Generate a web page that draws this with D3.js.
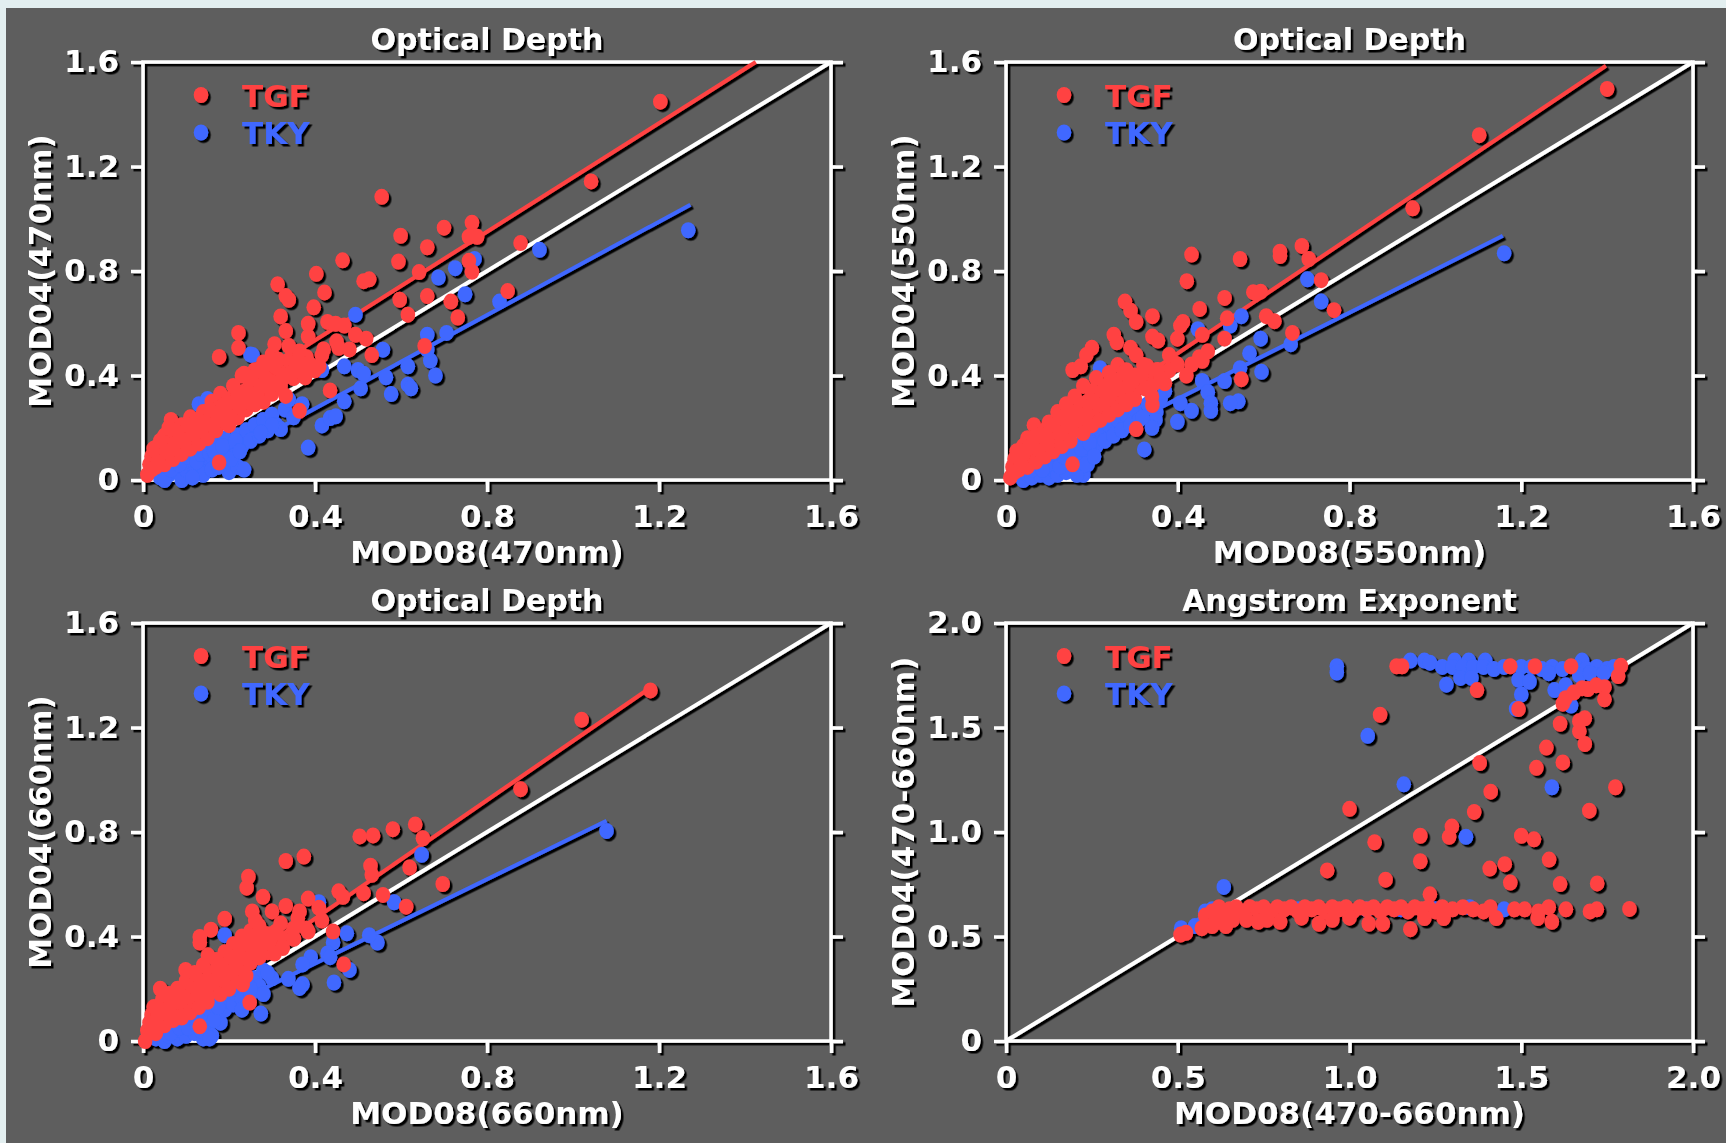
<!DOCTYPE html>
<html>
<head>
<meta charset="utf-8">
<script src="https://cdn.jsdelivr.net/npm/d3@7"></script>
<style>
body { margin: 0; background: #e3eff0; }
svg { display: block; font-family: "DejaVu Sans", Verdana, sans-serif; font-weight: bold; }
</style>
</head>
<body>
<div id="chart"></div>
<script>

// ---- titles, labels, ticks ----
var titles  = ["Optical Depth", "Optical Depth", "Optical Depth", "Angstrom Exponent"];
var xLabels = ["MOD08(470nm)", "MOD08(550nm)", "MOD08(660nm)", "MOD08(470-660nm)"];
var yLabels = ["MOD04(470nm)", "MOD04(550nm)", "MOD04(660nm)", "MOD04(470-660nm)"];
var series  = ["TGF", "TKY"];

var aodTicks    = [0, 0.4, 0.8, 1.2, 1.6];
var aodLabels   = ["0", "0.4", "0.8", "1.2", "1.6"];
var angTicks    = [0, 0.5, 1.0, 1.5, 2.0];
var angLabels   = ["0", "0.5", "1.0", "1.5", "2.0"];

// ---- 470nm ----
var tgf470 = [
	[0.01,0.02],[0.015,0.06],[0.02,0.09],[0.03,0.05],[0.03,0.11],[0.04,0.08],[0.045,0.13],[0.05,0.06],[0.05,0.17],[0.06,0.10],
	[0.06,0.14],[0.065,0.23],[0.07,0.08],[0.07,0.19],[0.08,0.12],[0.08,0.16],[0.09,0.10],[0.09,0.21],[0.10,0.14],[0.10,0.18],
	[0.11,0.12],[0.11,0.24],[0.12,0.16],[0.12,0.20],[0.13,0.14],[0.13,0.22],[0.14,0.18],[0.14,0.26],[0.15,0.16],[0.15,0.21],
	[0.16,0.24],[0.16,0.30],[0.17,0.19],[0.17,0.27],[0.18,0.22],[0.18,0.33],[0.19,0.25],[0.19,0.29],[0.20,0.21],[0.20,0.31],
	[0.21,0.27],[0.21,0.36],[0.22,0.24],[0.22,0.32],[0.23,0.29],[0.23,0.40],[0.24,0.27],[0.24,0.34],[0.25,0.31],[0.25,0.37],
	[0.26,0.29],[0.26,0.42],[0.27,0.33],[0.27,0.38],[0.28,0.30],[0.28,0.45],[0.29,0.35],[0.29,0.41],[0.30,0.33],[0.30,0.48],
	[0.31,0.38],[0.31,0.43],[0.32,0.36],[0.33,0.41],[0.34,0.46],[0.35,0.39],[0.36,0.44],[0.38,0.47],[0.40,0.42],[0.42,0.50],
	[0.45,0.53],[0.48,0.50],
	[0.02,0.04],[0.025,0.12],[0.035,0.07],[0.04,0.15],[0.055,0.11],[0.06,0.20],[0.075,0.14],[0.085,0.18],[0.095,0.15],[0.105,0.21],
	[0.115,0.19],[0.125,0.23],[0.135,0.19],[0.145,0.22],[0.155,0.27],[0.165,0.21],[0.175,0.24],[0.185,0.28],[0.195,0.22],[0.205,0.26],
	[0.215,0.30],[0.225,0.28],[0.235,0.33],[0.245,0.30],[0.255,0.35],[0.265,0.33],[0.275,0.36],[0.285,0.38],[0.295,0.43],[0.305,0.37],
	[0.315,0.46],[0.325,0.39],[0.345,0.41],[0.355,0.45],[0.37,0.41],[0.39,0.44],
	[1.203,1.448],[1.042,1.143],[0.555,1.084],[0.765,0.985],[0.700,0.966],[0.599,0.935],[0.758,0.931],[0.777,0.931],[0.661,0.891],
	[0.878,0.907],[0.464,0.841],[0.594,0.836],[0.758,0.839],[0.642,0.796],[0.403,0.789],[0.765,0.797],[0.526,0.768],[0.513,0.761],
	[0.313,0.749],[0.422,0.718],[0.661,0.704],[0.332,0.704],[0.339,0.690],[0.597,0.690],[0.716,0.683],[0.848,0.723],[0.397,0.661],
	[0.616,0.633],[0.320,0.626],[0.732,0.622],[0.429,0.605],[0.448,0.598],[0.468,0.591],[0.384,0.598],[0.332,0.570],[0.222,0.563],
	[0.384,0.549],[0.494,0.556],[0.519,0.541],[0.655,0.513],[0.306,0.520],[0.339,0.513],[0.455,0.506],[0.364,0.492],[0.416,0.478],
	[0.532,0.478],[0.177,0.471],[0.222,0.506],[0.371,0.442],[0.306,0.435],[0.410,0.435],[0.377,0.393],[0.267,0.421],[0.326,0.400],
	[0.235,0.407],[0.287,0.386],[0.435,0.343],[0.364,0.265],[0.177,0.067],[0.332,0.322]
];
var tky470 = [
	[0.04,0.01],[0.05,0.03],[0.06,0.02],[0.07,0.05],[0.08,0.03],[0.09,0.00],[0.09,0.07],[0.10,0.04],[0.11,0.08],[0.12,0.03],
	[0.12,0.11],[0.13,0.06],[0.14,0.09],[0.14,0.02],[0.15,0.12],[0.16,0.07],[0.16,0.04],[0.17,0.14],[0.18,0.10],[0.19,0.06],
	[0.19,0.16],[0.20,0.12],[0.20,0.03],[0.21,0.09],[0.22,0.17],[0.22,0.05],[0.23,0.13],[0.24,0.19],[0.25,0.15],[0.26,0.21],
	[0.27,0.17],[0.28,0.23],[0.29,0.19],[0.30,0.25],[0.31,0.21],[0.33,0.27],[0.35,0.24],[0.37,0.29],[0.13,0.29],[0.15,0.31],
	[0.25,0.48],
	[0.05,0.00],[0.065,0.04],[0.085,0.06],[0.105,0.09],[0.115,0.01],[0.125,0.07],[0.135,0.10],[0.155,0.10],[0.165,0.11],[0.175,0.05],
	[0.185,0.13],[0.205,0.08],[0.215,0.15],[0.225,0.11],[0.235,0.04],
	[1.268,0.956],[0.922,0.881],[0.829,0.683],[0.749,0.711],[0.726,0.811],[0.687,0.775],[0.771,0.846],[0.706,0.563],[0.661,0.556],
	[0.668,0.457],[0.680,0.400],[0.661,0.499],[0.616,0.435],[0.616,0.365],[0.623,0.351],[0.565,0.393],[0.577,0.329],[0.558,0.499],
	[0.506,0.351],[0.494,0.633],[0.468,0.435],[0.500,0.421],[0.513,0.407],[0.468,0.301],[0.416,0.421],[0.416,0.209],[0.435,0.237],
	[0.448,0.244],[0.384,0.124],[0.339,0.308],[0.320,0.195],[0.300,0.209],[0.274,0.181],[0.255,0.478],[0.145,0.294]
];
var fitTgf470 = [[0.02,0.14],[1.425,1.6]];
var fitTky470 = [[0.10,0.006],[1.273,1.054]];

// ---- 550nm ----
var tgf550 = [
	[0.01,0.01],[0.015,0.05],[0.02,0.08],[0.03,0.04],[0.03,0.10],[0.04,0.07],[0.04,0.13],[0.05,0.05],[0.05,0.16],[0.06,0.09],
	[0.06,0.12],[0.065,0.21],[0.07,0.07],[0.07,0.17],[0.08,0.11],[0.08,0.15],[0.09,0.09],[0.09,0.19],[0.10,0.13],[0.10,0.22],
	[0.11,0.11],[0.11,0.17],[0.12,0.15],[0.12,0.26],[0.13,0.13],[0.13,0.20],[0.14,0.17],[0.14,0.29],[0.15,0.15],[0.15,0.23],
	[0.16,0.19],[0.16,0.32],[0.17,0.21],[0.17,0.26],[0.18,0.18],[0.18,0.36],[0.19,0.24],[0.19,0.30],[0.20,0.21],[0.20,0.34],
	[0.21,0.26],[0.21,0.39],[0.22,0.23],[0.22,0.31],[0.23,0.28],[0.23,0.36],[0.24,0.25],[0.24,0.41],[0.25,0.30],[0.25,0.35],
	[0.26,0.27],[0.26,0.44],[0.27,0.32],[0.27,0.38],[0.28,0.29],[0.28,0.42],[0.29,0.34],[0.30,0.31],[0.30,0.40],[0.31,0.36],
	[0.32,0.44],[0.33,0.38],[0.34,0.32],[0.35,0.42],[0.37,0.37],[0.39,0.45],[0.42,0.40],[0.45,0.47],
	[0.02,0.03],[0.025,0.11],[0.035,0.06],[0.04,0.10],[0.055,0.13],[0.065,0.16],[0.075,0.12],[0.085,0.17],[0.095,0.14],[0.105,0.18],
	[0.115,0.21],[0.125,0.18],[0.135,0.24],[0.145,0.21],[0.155,0.26],[0.165,0.23],[0.175,0.29],[0.185,0.25],[0.195,0.27],[0.205,0.30],
	[0.215,0.29],[0.225,0.34],[0.235,0.31],[0.245,0.33],[0.255,0.38],[0.265,0.35],[0.275,0.41],[0.285,0.36],[0.295,0.38],[0.315,0.40],
	[0.325,0.35],[0.345,0.37],[0.36,0.40],[0.38,0.42],
	[1.400,1.497],[1.102,1.320],[0.947,1.040],[0.689,0.896],[0.638,0.874],[0.638,0.857],[0.705,0.846],[0.432,0.863],[0.545,0.846],
	[0.421,0.761],[0.734,0.765],[0.764,0.650],[0.576,0.719],[0.593,0.721],[0.509,0.697],[0.277,0.683],[0.290,0.648],[0.341,0.627],
	[0.451,0.655],[0.412,0.605],[0.406,0.591],[0.515,0.619],[0.606,0.627],[0.625,0.608],[0.303,0.605],[0.667,0.563],[0.509,0.541],
	[0.457,0.556],[0.399,0.541],[0.341,0.549],[0.354,0.534],[0.251,0.556],[0.258,0.527],[0.200,0.506],[0.187,0.478],[0.174,0.435],
	[0.155,0.421],[0.290,0.506],[0.303,0.478],[0.380,0.478],[0.399,0.442],[0.432,0.442],[0.470,0.492],[0.457,0.456],[0.329,0.435],
	[0.354,0.421],[0.361,0.386],[0.548,0.386],[0.329,0.350],[0.341,0.287],[0.303,0.195],[0.155,0.060]
];
var tky550 = [
	[0.04,0.00],[0.05,0.02],[0.06,0.01],[0.07,0.04],[0.08,0.02],[0.09,0.05],[0.10,0.01],[0.10,0.07],[0.11,0.04],[0.12,0.09],
	[0.12,0.02],[0.13,0.06],[0.14,0.11],[0.14,0.03],[0.15,0.08],[0.16,0.05],[0.16,0.13],[0.17,0.09],[0.18,0.02],[0.18,0.15],
	[0.19,0.11],[0.19,0.06],[0.20,0.17],[0.21,0.13],[0.22,0.19],[0.23,0.15],[0.24,0.21],[0.25,0.17],[0.26,0.23],[0.27,0.19],
	[0.28,0.25],[0.29,0.21],[0.30,0.27],[0.31,0.23],[0.33,0.29],[0.35,0.26],
	[0.06,0.04],[0.085,0.04],[0.105,0.10],[0.125,0.05],[0.135,0.09],[0.155,0.11],[0.165,0.02],[0.175,0.12],[0.185,0.06],[0.195,0.14],
	[0.205,0.09],
	[1.160,0.868],[0.702,0.768],[0.734,0.683],[0.593,0.541],[0.663,0.520],[0.595,0.414],[0.548,0.627],[0.522,0.591],[0.447,0.577],
	[0.567,0.485],[0.545,0.428],[0.541,0.301],[0.522,0.294],[0.509,0.379],[0.457,0.379],[0.470,0.336],[0.477,0.294],[0.477,0.265],
	[0.432,0.265],[0.406,0.294],[0.399,0.223],[0.348,0.230],[0.322,0.117],[0.219,0.428],[0.340,0.200],[0.318,0.240],[0.370,0.340],
	[0.360,0.310]
];
var fitTgf550 = [[0.01,0.055],[1.397,1.585]];
var fitTky550 = [[0.05,0.022],[1.157,0.935]];

// ---- 660nm ----
var tgf660 = [
	[0.005,0.00],[0.01,0.04],[0.015,0.07],[0.02,0.10],[0.03,0.03],[0.03,0.08],[0.04,0.12],[0.04,0.20],[0.05,0.06],[0.05,0.15],
	[0.06,0.10],[0.06,0.18],[0.07,0.08],[0.07,0.13],[0.08,0.11],[0.08,0.20],[0.09,0.15],[0.09,0.09],[0.10,0.13],[0.10,0.23],
	[0.11,0.17],[0.11,0.11],[0.12,0.15],[0.12,0.26],[0.13,0.19],[0.13,0.13],[0.14,0.17],[0.14,0.29],[0.15,0.21],[0.15,0.15],
	[0.16,0.25],[0.16,0.19],[0.17,0.31],[0.17,0.22],[0.18,0.18],[0.18,0.27],[0.19,0.34],[0.19,0.23],[0.20,0.29],[0.20,0.20],
	[0.21,0.37],[0.21,0.26],[0.22,0.31],[0.22,0.23],[0.23,0.40],[0.23,0.28],[0.24,0.34],[0.24,0.25],[0.25,0.30],[0.25,0.42],
	[0.26,0.36],[0.27,0.32],[0.27,0.44],[0.28,0.38],[0.29,0.34],[0.30,0.41],[0.31,0.37],[0.32,0.45],[0.34,0.40],[0.36,0.47],
	[0.38,0.43],
	[0.02,0.06],[0.025,0.13],[0.035,0.10],[0.045,0.16],[0.055,0.12],[0.065,0.14],[0.075,0.17],[0.085,0.15],[0.095,0.19],[0.105,0.17],
	[0.115,0.21],[0.125,0.20],[0.135,0.23],[0.145,0.22],[0.155,0.26],[0.165,0.23],[0.175,0.27],[0.185,0.29],[0.195,0.26],[0.205,0.32],
	[0.215,0.30],[0.225,0.35],[0.235,0.32],[0.245,0.37],[0.255,0.34],[0.265,0.39],[0.275,0.36],[0.285,0.41],[0.295,0.38],[0.31,0.42],
	[0.33,0.39],[0.35,0.43],
	[1.180,1.342],[1.020,1.230],[0.878,0.964],[0.633,0.829],[0.651,0.776],[0.581,0.811],[0.535,0.787],[0.504,0.783],[0.374,0.706],
	[0.332,0.689],[0.620,0.664],[0.529,0.671],[0.532,0.636],[0.697,0.601],[0.513,0.566],[0.558,0.559],[0.612,0.514],[0.245,0.629],
	[0.241,0.587],[0.279,0.552],[0.455,0.573],[0.465,0.552],[0.384,0.545],[0.300,0.496],[0.332,0.517],[0.364,0.496],[0.409,0.510],
	[0.254,0.496],[0.261,0.461],[0.190,0.468],[0.158,0.426],[0.132,0.398],[0.132,0.377],[0.151,0.328],[0.384,0.419],[0.351,0.391],
	[0.416,0.461],[0.442,0.419],[0.306,0.335],[0.325,0.356],[0.467,0.293],[0.099,0.272],[0.248,0.147],[0.132,0.056],[0.232,0.217]
];
var tky660 = [
	[0.03,0.01],[0.04,0.03],[0.05,0.00],[0.06,0.02],[0.07,0.05],[0.08,0.01],[0.08,0.07],[0.09,0.04],[0.10,0.08],[0.10,0.02],
	[0.11,0.06],[0.12,0.10],[0.12,0.03],[0.13,0.07],[0.14,0.12],[0.14,0.01],[0.15,0.09],[0.15,0.05],[0.16,0.14],[0.16,0.02],
	[0.17,0.10],[0.18,0.16],[0.18,0.07],[0.19,0.12],[0.20,0.18],[0.21,0.14],[0.22,0.20],[0.23,0.16],[0.24,0.22],[0.25,0.18],
	[0.26,0.24],[0.27,0.21],[0.28,0.27],[0.30,0.24],
	[0.065,0.03],[0.085,0.05],[0.105,0.05],[0.115,0.09],[0.125,0.06],[0.135,0.04],[0.145,0.09],[0.155,0.12],[0.165,0.08],[0.175,0.13],
	[0.155,0.01],
	[1.078,0.804],[0.648,0.713],[0.584,0.531],[0.545,0.377],[0.526,0.405],[0.474,0.412],[0.442,0.377],[0.429,0.335],[0.435,0.321],
	[0.409,0.531],[0.480,0.272],[0.444,0.224],[0.390,0.321],[0.371,0.293],[0.371,0.217],[0.364,0.203],[0.338,0.238],[0.274,0.105],
	[0.280,0.180],[0.290,0.260],[0.230,0.120],[0.250,0.200],[0.190,0.405]
];
var fitTgf660 = [[0.005,0.021],[1.184,1.357]];
var fitTky660 = [[0.05,0.015],[1.078,0.843]];

// ---- Angstrom exponent 470-660nm ----
var tgfAng = [
	[0.58,0.60],[0.60,0.62],[0.62,0.64],[0.63,0.60],[0.65,0.63],[0.67,0.64],[0.69,0.62],[0.71,0.64],[0.73,0.63],[0.75,0.64],
	[0.77,0.62],[0.79,0.64],[0.81,0.63],[0.83,0.64],[0.85,0.62],[0.87,0.64],[0.89,0.63],[0.91,0.64],[0.93,0.62],[0.95,0.64],
	[0.97,0.63],[0.99,0.64],[1.01,0.62],[1.03,0.64],[1.05,0.63],[1.07,0.64],[1.09,0.62],[1.11,0.64],[1.13,0.63],[1.15,0.64],
	[1.17,0.62],[1.19,0.64],[1.21,0.63],[1.23,0.64],[1.25,0.62],[1.27,0.64],[1.30,0.63],[1.33,0.64],[1.36,0.63],[1.39,0.62],
	[1.41,0.64],[1.48,0.63],[1.51,0.63],[1.55,0.62],[1.58,0.64],[1.63,0.63],[1.70,0.62],[1.72,0.63],
	[0.508,0.509],[0.524,0.518],[0.57,0.54],[0.60,0.55],[0.62,0.57],[0.64,0.55],[0.66,0.58],[0.734,0.570],[0.798,0.570],
	[0.911,0.561],[1.056,0.561],[1.097,0.561],[1.177,0.535],[1.218,0.588],[1.274,0.588],[1.427,0.588],[1.548,0.588],[1.589,0.570],
	[0.70,0.58],[0.76,0.58],[0.86,0.59],[0.95,0.58],[1.00,0.59],
	[1.137,1.793],[1.153,1.793],[1.468,1.793],[1.540,1.793],[1.645,1.793],[1.790,1.795],
	[1.371,1.679],[1.492,1.588],[1.782,1.746],[1.742,1.693],[1.718,1.702],[1.694,1.684],[1.677,1.688],[1.653,1.667],[1.629,1.640],
	[1.621,1.614],[1.742,1.635],[1.089,1.561],[1.613,1.518],[1.669,1.530],[1.685,1.544],[1.669,1.482],[1.685,1.421],[1.573,1.404],
	[1.621,1.333],[1.379,1.330],[1.544,1.307],[1.774,1.214],[1.411,1.193],[1.000,1.111],[1.363,1.096],[1.698,1.102],[1.298,1.026],
	[1.290,0.977],[1.206,0.982],[1.500,0.982],[1.537,0.965],[1.073,0.951],[1.581,0.868],[1.206,0.860],[1.452,0.846],[1.408,0.825],
	[0.935,0.816],[1.105,0.772],[1.468,0.758],[1.613,0.751],[1.721,0.754],[1.234,0.702],[1.815,0.632]
];
var tkyAng = [
	[0.51,0.54],[0.55,0.55],[0.57,0.56],[0.58,0.62],[0.60,0.63],[0.62,0.62],[0.65,0.58],[0.68,0.62],[0.75,0.63],[0.85,0.63],
	[0.95,0.63],[1.05,0.63],[1.15,0.63],[1.25,0.63],[1.35,0.64],[1.45,0.63],
	[0.963,1.793],[0.963,1.763],[1.177,1.82],[1.218,1.82],[1.234,1.81],[1.306,1.82],[1.347,1.82],[1.395,1.82],[1.677,1.82],
	[1.27,1.79],[1.30,1.79],[1.33,1.79],[1.36,1.79],[1.39,1.79],[1.42,1.78],[1.45,1.79],[1.50,1.79],[1.53,1.79],[1.56,1.78],
	[1.59,1.79],[1.62,1.78],[1.66,1.79],[1.69,1.78],[1.72,1.79],[1.75,1.78],[1.77,1.79],
	[1.282,1.705],[1.323,1.737],[1.355,1.737],[1.492,1.728],[1.524,1.719],[1.500,1.658],[1.597,1.679],[1.629,1.702],[1.669,1.749],
	[1.58,1.76],[1.70,1.76],[1.74,1.76],[1.645,1.605],[1.485,1.590],
	[1.053,1.460],[1.158,1.228],[1.589,1.214],[1.339,0.977],[0.634,0.737]
];

var RED  = "#ff4343";
var BLUE = "#3f68ff";

var W = 1726, H = 1143;

var svg = d3.select("#chart").append("svg")
	.attr("width", W)
	.attr("height", H);

var filter = svg.append("defs").append("filter")
	.attr("id", "shadow")
	.attr("x", "-5%").attr("y", "-5%")
	.attr("width", "115%").attr("height", "115%");
filter.append("feDropShadow")
	.attr("dx", 2.5).attr("dy", 2.5)
	.attr("stdDeviation", 0.7)
	.attr("flood-color", "#000")
	.attr("flood-opacity", 1);

// slide background
svg.append("rect")
	.attr("x", 6).attr("y", 8)
	.attr("width", W - 6).attr("height", H - 8)
	.attr("fill", "#5e5e5e");

var panels = [
	{ left: 143,  top: 62,  w: 688, h: 418, max: 1.6, ticks: aodTicks, labels: aodLabels,
	  title: titles[0], xlab: xLabels[0], ylab: yLabels[0], tgf: tgf470, tky: tky470, fits: [fitTky470, fitTgf470] },
	{ left: 1006, top: 62,  w: 687, h: 418, max: 1.6, ticks: aodTicks, labels: aodLabels,
	  title: titles[1], xlab: xLabels[1], ylab: yLabels[1], tgf: tgf550, tky: tky550, fits: [fitTky550, fitTgf550] },
	{ left: 143,  top: 623, w: 688, h: 418, max: 1.6, ticks: aodTicks, labels: aodLabels,
	  title: titles[2], xlab: xLabels[2], ylab: yLabels[2], tgf: tgf660, tky: tky660, fits: [fitTky660, fitTgf660] },
	{ left: 1006, top: 623, w: 687, h: 418, max: 2.0, ticks: angTicks, labels: angLabels,
	  title: titles[3], xlab: xLabels[3], ylab: yLabels[3], tgf: tgfAng, tky: tkyAng, fits: [] }
];

panels.forEach(drawPanel);

function styleAxis(sel) {
	sel.attr("font-size", null).attr("font-family", null);
	sel.select(".domain").remove();
	sel.selectAll(".tick line")
		.attr("stroke", "#fff")
		.attr("stroke-width", 3.5);
	sel.selectAll(".tick text")
		.attr("fill", "#fff")
		.style("font-size", "31px");
}

function drawPanel(p) {

	var g = svg.append("g")
		.attr("transform", "translate(" + p.left + "," + p.top + ")")
		.attr("filter", "url(#shadow)");

	var x = d3.scaleLinear().domain([0, p.max]).range([0, p.w]);
	var y = d3.scaleLinear().domain([0, p.max]).range([p.h, 0]);

	var fmt = function(d, i) { return p.labels[i]; };

	var bottom = g.append("g")
		.attr("transform", "translate(0," + p.h + ")")
		.call(d3.axisBottom(x).tickValues(p.ticks).tickFormat(fmt).tickSize(12).tickSizeOuter(0));
	styleAxis(bottom);
	bottom.selectAll(".tick text").attr("dy", null).attr("y", 47);

	var left = g.append("g")
		.call(d3.axisLeft(y).tickValues(p.ticks).tickFormat(fmt).tickSize(12).tickSizeOuter(0));
	styleAxis(left);
	left.selectAll(".tick text").attr("x", -24);

	var right = g.append("g")
		.attr("transform", "translate(" + p.w + ",0)")
		.call(d3.axisRight(y).tickValues(p.ticks).tickFormat("").tickSize(12).tickSizeOuter(0));
	styleAxis(right);

	g.append("rect")
		.attr("width", p.w)
		.attr("height", p.h)
		.attr("fill", "none")
		.attr("stroke", "#fff")
		.attr("stroke-width", 3.5);

	var line = d3.line()
		.x(function(d) { return x(d[0]); })
		.y(function(d) { return y(d[1]); });

	g.append("path")
		.attr("d", line([[0, 0], [p.max, p.max]]))
		.attr("stroke", "#fff")
		.attr("stroke-width", 4)
		.attr("fill", "none");

	p.fits.forEach(function(f, i) {
		g.append("path")
			.attr("d", line(f))
			.attr("stroke", i === 0 ? BLUE : RED)
			.attr("stroke-width", 4)
			.attr("fill", "none");
	});

	g.append("g").selectAll("ellipse")
		.data(p.tky)
		.enter().append("ellipse")
		.attr("cx", function(d) { return x(d[0]); })
		.attr("cy", function(d) { return y(d[1]); })
		.attr("rx", 7.3)
		.attr("ry", 8)
		.attr("fill", BLUE);

	g.append("g").selectAll("ellipse")
		.data(p.tgf)
		.enter().append("ellipse")
		.attr("cx", function(d) { return x(d[0]); })
		.attr("cy", function(d) { return y(d[1]); })
		.attr("rx", 7.3)
		.attr("ry", 8)
		.attr("fill", RED);

	// legend
	var colours = [RED, BLUE];
	series.forEach(function(s, i) {
		g.append("ellipse")
			.attr("cx", 58)
			.attr("cy", 33 + i * 37.5)
			.attr("rx", 7.3)
			.attr("ry", 8)
			.attr("fill", colours[i]);
		g.append("text")
			.attr("x", 99)
			.attr("y", 45 + i * 37)
			.attr("fill", colours[i])
			.style("font-size", "31px")
			.text(s);
	});

	g.append("text")
		.attr("x", p.w / 2)
		.attr("y", -12)
		.attr("text-anchor", "middle")
		.attr("fill", "#fff")
		.style("font-size", "30px")
		.text(p.title);

	g.append("text")
		.attr("x", p.w / 2)
		.attr("y", p.h + 83)
		.attr("text-anchor", "middle")
		.attr("fill", "#fff")
		.style("font-size", "31px")
		.text(p.xlab);

	g.append("text")
		.attr("transform", "translate(-92," + (p.h / 2) + ") rotate(-90)")
		.attr("text-anchor", "middle")
		.attr("fill", "#fff")
		.style("font-size", "31px")
		.text(p.ylab);
}

</script>
</body>
</html>
